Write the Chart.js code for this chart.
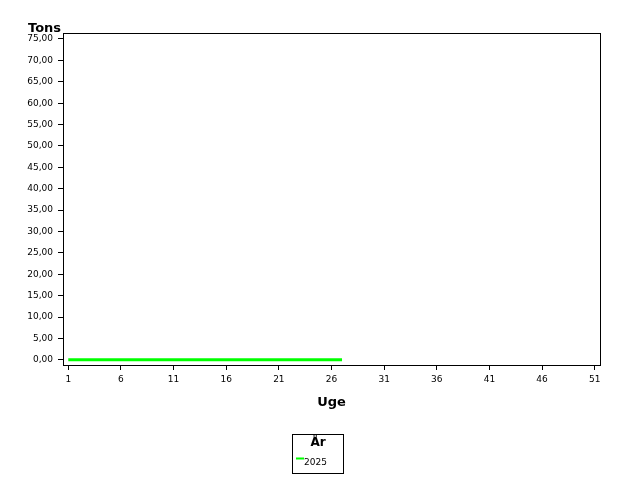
<!DOCTYPE html>
<html>
<head>
<meta charset="utf-8">
<script src="https://cdn.jsdelivr.net/npm/chart.js@4"></script>
<style>
  html, body { margin: 0; padding: 0; background: #fff; }
  #wrap { width: 640px; height: 480px; }
</style>
</head>
<body>
<div id="wrap"><canvas id="myChart" width="640" height="480"></canvas></div>
<script>
var weeks = [1,2,3,4,5,6,7,8,9,10,11,12,13,14,15,16,17,18,19,20,21,22,23,24,25,26,27];
var tons2025 = [0,0,0,0,0,0,0,0,0,0,0,0,0,0,0,0,0,0,0,0,0,0,0,0,0,0,0];
var xTicks = [1,6,11,16,21,26,31,36,41,46,51];
var yTicks = [0,5,10,15,20,25,30,35,40,45,50,55,60,65,70,75];
var seriesName = "2025";
var lineColor = "#00ff00";

var points = weeks.map(function (w, i) { return {x: w, y: tons2025[i]}; });

var frame = {
  id: "frame",
  afterDraw: function (chart) {
    var c = chart.ctx, a = chart.chartArea;
    c.save();
    c.strokeStyle = "#000";
    c.lineWidth = 1;
    c.strokeRect(Math.round(a.left) + 0.5, Math.round(a.top) + 0.5,
                 Math.round(a.right - a.left), Math.round(a.bottom - a.top));
    // y title
    c.fillStyle = "#000";
    c.font = "bold 13px 'DejaVu Sans'";
    c.textAlign = "left";
    c.textBaseline = "alphabetic";
    c.fillText("Tons", 28, 32);
    // legend
    c.strokeRect(292.5, 434.5, 51, 39);
    c.font = "bold 12px 'DejaVu Sans'";
    c.textAlign = "center";
    c.fillText("År", 318, 446);
    c.strokeStyle = lineColor;
    c.lineWidth = 2;
    c.beginPath();
    c.moveTo(296, 458.5);
    c.lineTo(304, 458.5);
    c.stroke();
    c.font = "9px 'DejaVu Sans'";
    c.textAlign = "left";
    c.fillText(chart.data.datasets[0].label, 304, 465);
    c.restore();
  }
};

new Chart("myChart", {
  type: "line",
  data: {
    datasets: [{
      label: seriesName,
      data: points,
      borderColor: lineColor,
      borderWidth: 3,
      pointRadius: 0,
      fill: false
    }]
  },
  plugins: [frame],
  options: {
    responsive: false,
    animation: false,
    layout: { padding: { left: 0, top: 33, right: 40, bottom: 70 } },
    plugins: { legend: { display: false }, tooltip: { enabled: false } },
    scales: {
      x: {
        type: "linear",
        min: 0.5,
        max: 51.5,
        afterBuildTicks: function (s) { s.ticks = xTicks.map(function (v) { return {value: v}; }); },
        afterFit: function (s) { s.height = 45; },
        grid: { drawOnChartArea: false, drawTicks: true, tickLength: 5, color: "#000" },
        border: { color: "#000" },
        ticks: { color: "#000", font: { family: "DejaVu Sans", size: 9 }, padding: 4, maxRotation: 0 },
        title: { display: true, text: "Uge", color: "#000", font: { family: "DejaVu Sans", size: 13, weight: "bold" }, padding: { top: 5, bottom: 0 } }
      },
      y: {
        min: -1.2,
        max: 76.4,
        afterBuildTicks: function (s) { s.ticks = yTicks.map(function (v) { return {value: v}; }); },
        afterFit: function (s) { s.width = 63; },
        grid: { drawOnChartArea: false, drawTicks: true, tickLength: 5, color: "#000" },
        border: { color: "#000" },
        ticks: {
          color: "#000",
          font: { family: "DejaVu Sans", size: 9 },
          padding: 5,
          callback: function (v) { return v.toFixed(2).replace(".", ","); }
        }
      }
    }
  }
});
</script>
</body>
</html>
